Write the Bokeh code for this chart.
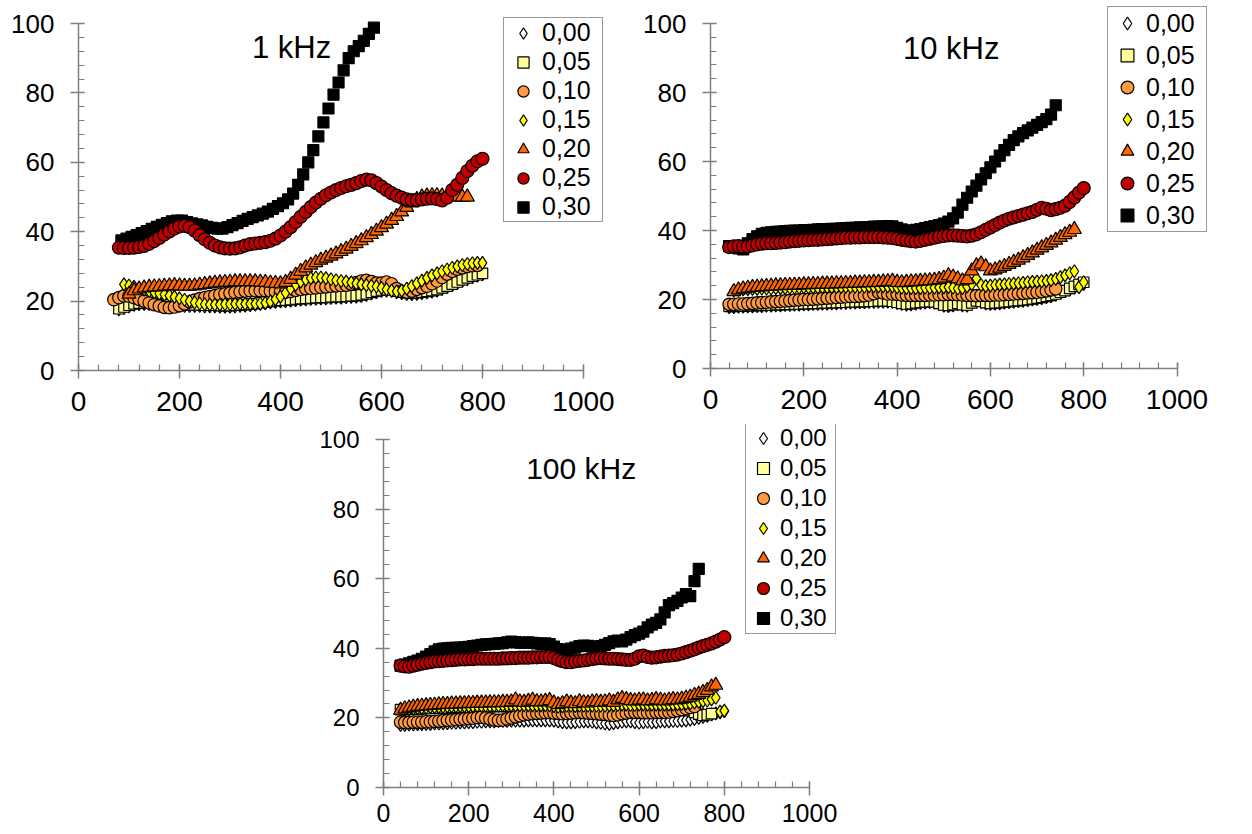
from bokeh.plotting import figure
from bokeh.models import Range1d, FixedTicker, Legend, LegendItem, Label, Spacer
from bokeh.layouts import row, column
from bokeh.embed import file_html
from bokeh.resources import INLINE

# ---------------- data ----------------
SERIES = ["0,00", "0,05", "0,10", "0,15", "0,20", "0,25", "0,30"]
X_TICKS = [0, 200, 400, 600, 800, 1000]
Y_TICKS = [0, 20, 40, 60, 80, 100]
STEP = 10  # temperature sampling step of the measured points

# ---- 1 kHz : first x of each series and its values
P1_START = {"0,00": 80, "0,05": 80, "0,10": 70, "0,15": 90, "0,20": 100, "0,25": 80, "0,30": 85}
P1_000 = [17.6, 18, 18.5, 18.9, 19.1, 19.2, 19.2, 19.1, 18.9, 18.7,
          18.6, 18.6, 18.6, 18.6, 18.6, 18.6, 18.6, 18.5, 18.5, 18.5,
          18.4, 18.4, 18.4, 18.5, 18.6, 18.7, 18.8, 19, 19.2, 19.4,
          19.6, 19.8, 19.9, 20, 20.1, 20.3, 20.4, 20.5, 20.6, 20.7,
          20.8, 20.8, 20.9, 21, 21, 21.1, 21.2, 21.3, 21.5, 21.8,
          22.2, 22.6, 22.9, 23, 22.9, 22.6, 22.3, 22.1, 22, 22.1,
          22.3, 22.5, 22.7, 23, 23.5, 24, 24.6, 25.2, 25.8, 26.4,
          26.9, 27.3, 27.7]
P1_005 = [17.8, 18.3, 18.8, 19.2, 19.4, 19.5, 19.5, 19.4, 19.2, 19,
          18.9, 18.9, 18.9, 18.9, 18.9, 18.9, 18.9, 18.8, 18.8, 18.8,
          18.7, 18.7, 18.7, 18.8, 18.9, 19, 19.1, 19.3, 19.5, 19.7,
          19.9, 20.1, 20.2, 20.3, 20.4, 20.6, 20.7, 20.8, 20.9, 21,
          21.1, 21.1, 21.2, 21.3, 21.3, 21.4, 21.5, 21.6, 21.8, 22.1,
          22.5, 22.9, 23.2, 23.3, 23.2, 22.9, 22.6, 22.4, 22.3, 22.4,
          22.6, 22.8, 23, 23.3, 23.8, 24.3, 24.9, 25.5, 26.1, 26.7,
          27.2, 27.6, 28]
P1_010 = [20.4, 21, 21.5, 21.4, 21, 20.5, 20, 19.5, 19, 18.6,
          18.2, 18.1, 18.3, 18.7, 19.2, 19.8, 20.3, 20.7, 21, 21.3,
          21.6, 21.9, 22.1, 22.3, 22.5, 22.7, 22.9, 23, 23, 23,
          23, 22.9, 22.8, 22.6, 22.6, 22.8, 23.1, 23.4, 23.6, 23.7,
          23.8, 24, 24.1, 24.3, 24.4, 24.5, 24.6, 24.9, 25.3, 25.8,
          26, 25.6, 25.2, 25.2, 25.5, 25, 23.6, 22.8, 22.6, 22.9,
          23.4, 23.9, 24.3, 25, 25.8, 26.8, 27.8, 28.6, 29.2, 29.6,
          30, 30.2, 30.3]
P1_015 = [24.8, 24.5, 24.1, 23.7, 23.3, 22.9, 22.5, 22.2, 21.9, 21.6,
          21.2, 20.8, 20.4, 20, 19.6, 19.3, 19.1, 19, 19, 19,
          19.1, 19.1, 19.2, 19.2, 19.2, 19.2, 19.2, 19.3, 19.5, 19.9,
          20.5, 21.3, 22.4, 23.6, 24.7, 25.6, 26.2, 26.6, 26.8, 26.8,
          26.6, 26.3, 26, 25.8, 25.6, 25.4, 25.1, 24.8, 24.6, 24.4,
          24.2, 23.8, 23.4, 23, 22.8, 23, 23.6, 24.3, 25.1, 25.9,
          26.7, 27.4, 28, 28.6, 29.1, 29.6, 30, 30.4, 30.7, 30.9,
          31, 31]
P1_020 = [22, 23, 23.5, 23.8, 24, 24.1, 24.2, 24.3, 24.4, 24.5,
          24.4, 24.3, 24.3, 24.4, 24.6, 24.8, 25, 25.2, 25.3, 25.4,
          25.5, 25.6, 25.6, 25.6, 25.6, 25.6, 25.5, 25.4, 25.2, 25.1,
          25, 25.4, 26.3, 27.5, 28.6, 29.6, 30.4, 31.1, 31.8, 32.4,
          33, 33.6, 34.3, 35, 35.8, 36.6, 37.4, 38.3, 39.2, 40.2,
          41.2, 42.2, 43.3, 44.4, 45.7, 47, 48.3, 49.3, 50, 50.3,
          50.4, 50.4, 50.3, 50.2, 50.1, 50, 50, 50]
P1_025 = [35.4, 35.3, 35.3, 35.4, 35.6, 35.9, 36.5, 37.3, 38.2, 39.2,
          40.1, 40.9, 41.5, 41.7, 41.3, 40.3, 39, 37.8, 36.8, 36,
          35.5, 35.2, 35.1, 35.2, 35.5, 36, 36.4, 36.6, 36.8, 37,
          37.4, 38, 38.9, 40, 41.3, 42.8, 44.3, 45.7, 47.1, 48.4,
          49.5, 50.5, 51.3, 52, 52.6, 53.1, 53.5, 54, 54.6, 55,
          54.8, 54, 53, 52, 51.1, 50.4, 49.8, 49.3, 49.1, 49.1,
          49.3, 49.5, 49.6, 49.4, 49, 49.8, 52, 53.5, 55.5, 57.5,
          59, 60.3, 61]
P1_030 = [37.5, 38, 38.5, 39, 39.6, 40.2, 40.8, 41.4, 42, 42.5,
          43, 43.2, 43.2, 42.8, 42.4, 42.1, 41.8, 41.4, 41.1, 40.9,
          40.9, 41.3, 41.9, 42.5, 43.1, 43.7, 44.2, 44.7, 45.2, 45.8,
          46.6, 47.4, 48.2, 49.3, 51, 53.5, 56.5, 60, 63.5, 67.5,
          71.5, 75.5, 79.5, 83, 86.5, 90, 92, 93.5, 95, 97,
          98.8]

# ---- 10 kHz
P2_START = {"0,00": 40, "0,05": 40, "0,10": 40, "0,15": 50, "0,20": 50, "0,25": 40, "0,30": 40}
P2_000 = [17.8, 17.8, 17.9, 17.9, 18, 18, 18.1, 18.1, 18.2, 18.2,
          18.3, 18.3, 18.4, 18.4, 18.5, 18.5, 18.6, 18.6, 18.7, 18.7,
          18.8, 18.8, 18.9, 18.9, 19, 19, 19.1, 19.1, 19.2, 19.2,
          19.3, 19.3, 19.4, 19.4, 19.4, 19.3, 19, 18.7, 18.5, 18.6,
          18.8, 19, 19.1, 19.2, 19.1, 18.7, 18.2, 18.1, 18.3, 18.7,
          18.3, 18.2, 18.8, 19.4, 19.3, 18.9, 18.7, 18.8, 18.9, 19.1,
          19.2, 19.4, 19.5, 19.6, 19.8, 20, 20.2, 20.4, 20.7, 21,
          21.4, 21.9, 22.4, 22.9, 23.4, 24, 24.5]
P2_005 = [18, 18, 18.1, 18.1, 18.2, 18.2, 18.3, 18.3, 18.4, 18.4,
          18.5, 18.5, 18.6, 18.6, 18.7, 18.7, 18.8, 18.8, 18.9, 18.9,
          19, 19, 19.1, 19.1, 19.2, 19.2, 19.3, 19.3, 19.4, 19.4,
          19.5, 19.5, 19.6, 19.6, 19.6, 19.5, 19.2, 18.9, 18.7, 18.8,
          19, 19.2, 19.3, 19.4, 19.3, 18.9, 18.4, 18.3, 18.5, 18.9,
          18.5, 18.4, 19, 19.6, 19.5, 19.1, 18.9, 19, 19.1, 19.3,
          19.4, 19.6, 19.7, 19.8, 20, 20.2, 20.4, 20.6, 20.9, 21.2,
          21.6, 22.1, 22.6, 23.2, 23.8, 24.4, 25]
P2_010 = [18.6, 18.6, 18.7, 18.7, 18.8, 18.9, 19, 19.1, 19.2, 19.3,
          19.4, 19.5, 19.6, 19.7, 19.8, 19.9, 20, 20, 20.1, 20.2,
          20.3, 20.4, 20.5, 20.6, 20.7, 20.8, 20.9, 20.9, 21, 21.1,
          21.3, 21.7, 22.1, 21.9, 21.6, 21.6, 21.5, 21.3, 21.2, 21.2,
          21.2, 21.2, 21.2, 21.3, 21.3, 21.4, 21.4, 21.5, 21.5, 21.4,
          21.3, 21.2, 21.2, 21.1, 21.2, 21.2, 21.2, 21.3, 21.3, 21.4,
          21.5, 21.6, 21.7, 21.8, 21.9, 22, 22.1, 22.3, 22.5, 22.8,
          23.1]
P2_015 = [22.6, 22.8, 22.9, 23, 23.1, 23.1, 23.2, 23.2, 23.2, 23.3,
          23.3, 23.3, 23.4, 23.4, 23.4, 23.5, 23.5, 23.5, 23.5, 23.6,
          23.6, 23.6, 23.6, 23.6, 23.7, 23.7, 23.7, 23.7, 23.7, 23.8,
          23.8, 23.8, 23.8, 23.8, 23.8, 23.5, 23.4, 23.3, 23.3, 23.3,
          23.3, 23.4, 23.4, 23.4, 23.5, 23.5, 23.6, 23.4, 23.2, 23.3,
          23.8, 24.5, 26.1, 24.2, 23.9, 24, 24.2, 24.3, 24.4, 24.5,
          24.6, 24.7, 24.8, 25, 25.1, 25.2, 25.3, 25.4, 25.6, 26,
          26.5, 27, 27.6, 28.2, 23.6, 25]
P2_020 = [22.3, 22.8, 23.1, 23.3, 23.5, 23.6, 23.7, 23.8, 23.9, 24,
          24, 24.1, 24.1, 24.2, 24.2, 24.3, 24.3, 24.4, 24.4, 24.5,
          24.5, 24.5, 24.6, 24.6, 24.7, 24.7, 24.8, 24.8, 24.9, 24.9,
          25, 25, 25.1, 25.2, 25.3, 25, 24.9, 25, 25.1, 25.2,
          25.3, 25.4, 25.5, 25.6, 25.8, 26.2, 26.9, 26.5, 26, 25.4,
          25.8, 28.3, 29.8, 30.3, 29.5, 28.3, 28.6, 29.1, 29.6, 30.2,
          30.8, 31.4, 32.1, 32.8, 33.5, 34.3, 35, 35.7, 36.4, 37.2,
          38, 38.8, 39.5, 40.3]
P2_025 = [35.2, 35.4, 35.5, 35.3, 35.4, 35.7, 36, 36.2, 36.3, 36.3,
          36.4, 36.5, 36.6, 36.8, 36.9, 37, 37.1, 37.2, 37.3, 37.3,
          37.4, 37.5, 37.6, 37.7, 37.8, 37.9, 37.9, 38, 38, 38.1,
          38.1, 38.1, 38.1, 38, 37.9, 37.8, 37.6, 37.3, 37.1, 36.9,
          36.8, 37, 37.3, 37.6, 37.9, 38.2, 38.4, 38.6, 38.6, 38.5,
          38.4, 38.3, 38.5, 38.9, 39.5, 40.2, 40.9, 41.6, 42.3, 42.9,
          43.4, 43.8, 44.2, 44.6, 45, 45.4, 46, 46.6, 46.3, 45.9,
          46.2, 46.6, 47.2, 48.3, 49.6, 51, 52.3]
P2_030 = [35.5, 35.2, 34.8, 34.5, 36.3, 37.5, 38.3, 39, 39.3, 39.5,
          39.6, 39.7, 39.8, 39.9, 40, 40, 40.1, 40.1, 40.2, 40.3,
          40.4, 40.4, 40.5, 40.5, 40.6, 40.7, 40.8, 40.8, 40.9, 40.9,
          41, 41.1, 41.1, 41.2, 41.3, 41.2, 40.8, 40.3, 40, 40,
          40.2, 40.4, 40.7, 41, 41.3, 41.6, 42, 42.6, 43.5, 45.2,
          47.5, 49.5, 51.3, 53, 54.8, 56.6, 58.3, 60, 61.7, 63.3,
          64.8, 66.2, 67.3, 68.2, 69, 69.8, 70.6, 71.4, 72.3, 73.6,
          76.3]

# ---- 100 kHz
P3_START = {"0,00": 40, "0,05": 40, "0,10": 40, "0,15": 50, "0,20": 40, "0,25": 40, "0,30": 40}
P3_000 = [18, 18, 18.1, 18.1, 18.2, 18.2, 18.3, 18.3, 18.4, 18.4,
          18.5, 18.5, 18.6, 18.6, 18.7, 18.7, 18.8, 18.8, 18.9, 18.9,
          19, 19, 19, 19.1, 19.1, 19.1, 19.2, 19.2, 19.2, 19.2,
          19.3, 19.3, 19.3, 19.3, 19.3, 19.3, 19.2, 19, 18.8, 18.7,
          18.7, 18.8, 18.9, 19, 19, 18.9, 18.7, 18.6, 18.4, 18.3,
          18.5, 18.7, 18.9, 19, 19, 18.8, 18.6, 18.8, 18.9, 18.7,
          18.8, 19, 19, 19, 19.1, 19.1, 19.2, 19.3, 19.5, 19.7,
          20, 20.3, 20.6, 21, 21.3, 21.6, 21.9]
P3_005 = [22.4, 22.4, 22.5, 22.5, 22.6, 22.6, 22.7, 22.7, 22.8, 22.8,
          22.9, 22.9, 23, 23, 23, 23.1, 23.1, 23.1, 23.2, 23.2,
          23.2, 23.2, 23.3, 23.3, 23.3, 23.3, 23.3, 23.3, 23.3, 23.3,
          23.3, 23.3, 23.3, 23.3, 23.3, 23.3, 23.2, 23.1, 23, 23,
          23, 23, 23.1, 23.1, 23.1, 23.1, 23, 23, 23, 23,
          22.9, 23, 23.1, 23.2, 23.2, 23.2, 23.2, 23.1, 23.1, 23.1,
          23.1, 23.1, 23.2, 23.2, 23.2, 23.2, 23.2, 22.7, 22.1, 21.6,
          21.1, 20.7, 20.9, 21.2]
P3_010 = [18.8, 18.7, 18.7, 18.8, 18.8, 18.8, 18.9, 18.9, 19, 19.1,
          19.2, 19.3, 19.4, 19.5, 19.6, 19.7, 19.8, 19.9, 20.1, 20.2,
          20, 19.7, 19.4, 19.3, 19.4, 19.7, 20, 20.3, 20.6, 20.9,
          21.1, 21.2, 21.3, 21.4, 21.5, 21.5, 21.4, 21.3, 21.2, 21.3,
          21.4, 21.5, 21.6, 21.5, 21.4, 21.3, 21.2, 21.1, 21, 20.8,
          20.7, 20.9, 21.2, 21.4, 21.6, 21.6, 21.6, 21.5, 21.5, 21.5,
          21.6, 21.6, 21.6, 21.7, 21.9, 22.1, 22.4, 22.7, 23, 23.3]
P3_015 = [22.3, 22.5, 22.7, 22.8, 22.9, 23, 23.1, 23.1, 23.2, 23.2,
          23.3, 23.3, 23.3, 23.4, 23.4, 23.4, 23.4, 23.5, 23.5, 23.5,
          23.5, 23.5, 23.5, 23.6, 23.6, 23.6, 23.6, 23.6, 23.6, 23.6,
          23.6, 23.6, 23.6, 23.6, 23.6, 23.4, 23.2, 23.3, 23.5, 23.5,
          23.4, 23.5, 23.5, 23.5, 23.5, 23.5, 23.5, 23.5, 23.6, 23.6,
          23.7, 23.8, 23.8, 23.7, 23.7, 23.8, 23.8, 23.8, 23.8, 23.8,
          23.8, 23.8, 23.8, 23.8, 23.9, 24, 24.1, 24.2, 24.4, 24.6,
          24.8, 25, 25.3, 25.8, 21.8, 22.1]
P3_020 = [22.2, 22.6, 22.9, 23.1, 23.3, 23.4, 23.5, 23.6, 23.7, 23.8,
          23.9, 23.9, 24, 24, 24.1, 24.1, 24.2, 24.2, 24.3, 24.3,
          24.3, 24.4, 24.4, 24.4, 24.5, 24.5, 24.6, 25.2, 24.6, 24.5,
          24.8, 25.1, 24.7, 24.6, 24.8, 25, 24.3, 23.8, 24.1, 24.6,
          24.3, 24.1, 24.7, 24.4, 24.3, 24.6, 24.7, 24.5, 24.6, 24.9,
          24.5, 25.2, 25.6, 25.3, 25, 24.9, 25.1, 25.2, 24.9, 25,
          25.3, 25.1, 24.9, 25.1, 25.3, 25.2, 25.4, 25.7, 26, 26.5,
          26.8, 27.3, 27.9, 28.9, 29.4]
P3_025 = [35, 34.8, 34.7, 35, 35.3, 35.6, 35.8, 36, 36.2, 36.3,
          36.4, 36.5, 36.6, 36.7, 36.8, 36.8, 36.9, 36.9, 37, 37,
          37, 37, 37, 37, 37.1, 37.1, 37.2, 37.2, 37.3, 37.3,
          37.3, 37.4, 37.4, 37.5, 37.5, 37.5, 37.2, 36.7, 36.3, 36,
          36, 36.2, 36.4, 36.5, 36.7, 36.9, 37.1, 37.2, 37.1, 37,
          37, 36.9, 36.8, 36.7, 36.7, 37, 37.7, 37.9, 37.5, 37.3,
          37.4, 37.6, 37.8, 37.9, 38, 38.2, 38.5, 38.9, 39.3, 39.7,
          40.2, 40.6, 41, 41.4, 41.9, 42.5, 43.2]
P3_030 = [35, 35.3, 35.7, 36.1, 36.5, 37, 37.6, 38.3, 39.1, 39.7,
          39.9, 40, 40.1, 40.1, 40.2, 40.3, 40.4, 40.6, 40.8, 41,
          41.1, 41.2, 41.3, 41.4, 41.5, 41.7, 41.9, 41.8, 41.6, 41.6,
          41.7, 41.6, 41.4, 41.3, 41.4, 41.2, 40.5, 39.8, 39.5, 39.6,
          39.9, 40.2, 40.6, 40.8, 40.7, 40.5, 40.4, 40.6, 41, 41.5,
          42, 42.2, 42, 42.5, 43.2, 43.8, 44.2, 44.8, 46, 46.8,
          47.3, 48.3, 50.3, 52.4, 53, 53.6, 54.6, 55.6, 55, 59.3,
          62.8]

PANEL1 = dict(zip(SERIES, [P1_000, P1_005, P1_010, P1_015, P1_020, P1_025, P1_030]))
PANEL2 = dict(zip(SERIES, [P2_000, P2_005, P2_010, P2_015, P2_020, P2_025, P2_030]))
PANEL3 = dict(zip(SERIES, [P3_000, P3_005, P3_010, P3_015, P3_020, P3_025, P3_030]))

# ---------------- styles ----------------
FONT = "Liberation Sans"
AXIS_GREY = "#7f7f7f"
STYLE = {
    "0,00": dict(marker="diamond", fill_color="#FFFFFF", size=13),
    "0,05": dict(marker="square", fill_color="#FFFF99", size=10.5),
    "0,10": dict(marker="circle", fill_color="#FF9A40", size=12.5),
    "0,15": dict(marker="diamond", fill_color="#FFFF00", size=13),
    "0,20": dict(marker="triangle", fill_color="#FF6600", size=14),
    "0,25": dict(marker="circle", fill_color="#C00000", size=13),
    "0,30": dict(marker="square", fill_color="#000000", size=11),
}
DRAW_ORDER = ["0,30", "0,00", "0,05", "0,10", "0,15", "0,20", "0,25"]


def make_panel(data, starts, title, title_xy, x_max, y_max, frame_w, frame_h, borders,
               legend_loc, leg_row_h, leg_glyph_w, leg_label_w,
               ytick_font, xtick_font, xtick_standoff, leg_font, title_font):
    bl, br, bt, bb = borders
    p = figure(frame_width=frame_w, frame_height=frame_h,
               x_range=Range1d(0, x_max), y_range=Range1d(0, y_max),
               output_backend="svg", toolbar_location=None, tools="",
               min_border_left=bl, min_border_right=br,
               min_border_top=bt, min_border_bottom=bb)
    p.background_fill_color = "white"
    p.border_fill_color = "white"
    p.outline_line_color = None
    p.xgrid.visible = False
    p.ygrid.visible = False

    p.xaxis.ticker = FixedTicker(ticks=X_TICKS, minor_ticks=list(range(0, 1001, 40)))
    p.yaxis.ticker = FixedTicker(ticks=Y_TICKS, minor_ticks=list(range(0, 101, 4)))
    p.xaxis.bounds = (0, 1000)
    p.yaxis.bounds = (0, 100)
    for ax in (p.xaxis, p.yaxis):
        ax.axis_line_color = AXIS_GREY
        ax.axis_line_width = 1.5
        ax.major_tick_line_color = AXIS_GREY
        ax.major_tick_line_width = 1.5
        ax.minor_tick_line_color = AXIS_GREY
        ax.minor_tick_line_width = 1.2
        ax.major_tick_in = 6
        ax.major_tick_out = 8
        ax.minor_tick_in = 6
        ax.minor_tick_out = 0
        ax.major_label_text_font = FONT
        ax.major_label_text_color = "black"
    p.yaxis.major_label_text_font_size = ytick_font
    p.xaxis.major_label_text_font_size = xtick_font
    p.yaxis.major_label_standoff = 16
    p.xaxis.major_label_standoff = xtick_standoff

    renderers = {}
    for name in DRAW_ORDER:
        ys = data[name]
        xs = [starts[name] + STEP * i for i in range(len(ys))]
        st = STYLE[name]
        r = p.scatter(xs, ys, marker=st["marker"], size=st["size"],
                      fill_color=st["fill_color"], line_color="black", line_width=1.2)
        renderers[name] = r

    p.add_layout(Label(x=title_xy[0], y=title_xy[1], text=title,
                       text_align="center", text_baseline="middle",
                       text_font=FONT, text_font_size=title_font, text_color="black"))

    items = [LegendItem(label=name, renderers=[renderers[name]]) for name in SERIES]
    leg = Legend(items=items, location=legend_loc, padding=0, spacing=0, margin=0,
                 glyph_width=leg_glyph_w, glyph_height=leg_row_h,
                 label_height=leg_row_h, label_width=leg_label_w, label_standoff=0,
                 label_text_font=FONT, label_text_font_size=leg_font,
                 label_text_color="black",
                 border_line_color="#333333", border_line_width=1,
                 background_fill_color="white", background_fill_alpha=1.0)
    p.add_layout(leg)
    return p


# frames are wider/taller than the 0..1000 / 0..100 axes so the legends are not clipped
p1 = make_panel(PANEL1, P1_START, "1 kHz", (422, 93.2), 1073.3, 105.19, 542, 365, (78, 0, 5, 54),
                (425, 148), 28, 38, 60, "26px", "28px", 13, "25px", "31px")
p2 = make_panel(PANEL2, P2_START, "10 kHz", (516, 92.7), 1082.5, 105.22, 505, 363, (90, 10, 5, 56),
                (397, 136), 32, 38, 60, "26px", "28px", 13, "25px", "31px")
p3 = make_panel(PANEL3, P3_START, "100 kHz", (464, 91.6), 1084.5, 104.31, 462, 363, (70, 10, 0, 40),
                (362, 153), 30, 34, 55, "24px", "25px", 8, "24px", "30px")

layout = column(row(p1, p2), row(Spacer(width=313, height=10), p3))
open("out.html", "w").write(file_html(layout, INLINE))
